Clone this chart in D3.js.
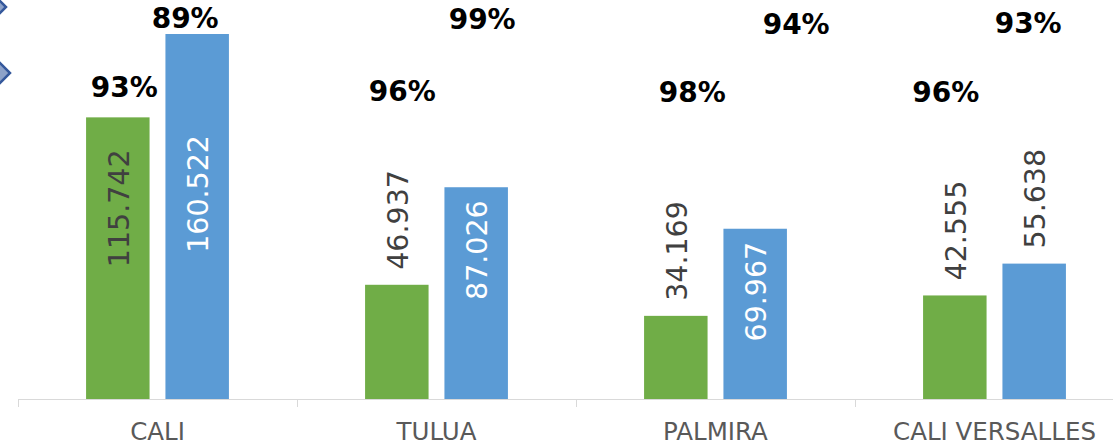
<!DOCTYPE html>
<meta charset="utf-8">
<style>
body { margin: 0; background: #fff; }
svg { display: block; font-family: "DejaVu Sans", Verdana, sans-serif; }
.axis-line { stroke: #d9d9d9; stroke-width: 1.5px; fill: none; shape-rendering: crispEdges; }
.cat-label { font-size: 24.5px; fill: #595959; text-anchor: middle; }
.val-label { font-size: 28.5px; }
.pct-label { font-size: 28px; font-weight: bold; fill: #000; text-anchor: middle; }
</style>
<body>
<div id="chart"></div>
<script src="https://cdn.jsdelivr.net/npm/d3@7"></script>
<script>
// data
var categories = ["CALI", "TULUA", "PALMIRA", "CALI VERSALLES"];
var series = ["green", "blue"];
var greenValues = [115742, 46937, 34169, 42555];
var blueValues = [160522, 87026, 69967, 55638];
var greenPct = ["93%", "96%", "98%", "96%"];
var bluePct = ["89%", "99%", "94%", "93%"];
var yMax = 150000;

// label layout (where the value text sits relative to the bar top)
var labelMode = {
  green: [{pos: "in", off: 32}, {pos: "out", off: 15}, {pos: "out", off: 15}, {pos: "out", off: 15}],
  blue:  [{pos: "in", off: 101}, {pos: "in", off: 13}, {pos: "in", off: 13}, {pos: "out", off: 15}]
};
var pctNudge = {
  green: {dx: [6.5, 5.5, 16.5, -9], y: [97, 101, 102, 102]},
  blue:  {dx: [-12, 6, 41, -6], y: [28, 29, 34, 33]}
};

var colors = {green: "#70AD47", blue: "#5B9BD5"};
var width = 1113, height = 446;
var plotTop = 34, baseY = 399, axisLeft = 18;

var fmt = d3.formatLocale({decimal: ",", thousands: ".", grouping: [3], currency: ["", ""]}).format(",");

var svg = d3.select("#chart").append("svg")
  .attr("width", width)
  .attr("height", height);

var x0 = d3.scaleBand().domain(categories).range([axisLeft, axisLeft + 279 * categories.length]).padding(0);
var x1 = d3.scaleBand().domain(series)
  .range([x0.bandwidth() * 0.244, x0.bandwidth() * 0.756])
  .paddingInner(0.2);
var y = d3.scaleLinear().domain([0, yMax]).range([baseY, plotTop]);

svg.append("clipPath").attr("id", "plot-clip")
  .append("rect")
  .attr("x", 0).attr("y", plotTop)
  .attr("width", width).attr("height", baseY - plotTop);

var rows = categories.map(function(c, i) {
  return {cat: c, i: i, green: greenValues[i], blue: blueValues[i]};
});

var groups = svg.append("g").selectAll("g")
  .data(rows)
  .enter().append("g")
  .attr("transform", function(d) { return "translate(" + x0(d.cat) + ",0)"; });

groups.selectAll("rect")
  .data(function(d) { return series.map(function(s) { return {s: s, v: d[s], i: d.i}; }); })
  .enter().append("rect")
  .attr("clip-path", "url(#plot-clip)")
  .attr("x", function(d) { return x1(d.s); })
  .attr("y", function(d) { return y(d.v); })
  .attr("width", x1.bandwidth())
  .attr("height", function(d) { return baseY - y(d.v); })
  .attr("fill", function(d) { return colors[d.s]; });

// value labels, rotated
groups.selectAll("text.val-label")
  .data(function(d) { return series.map(function(s) { return {s: s, v: d[s], i: d.i}; }); })
  .enter().append("text")
  .attr("class", "val-label")
  .attr("transform", function(d) {
    var m = labelMode[d.s][d.i];
    var top = Math.max(y(d.v), plotTop);
    var ty = m.pos === "in" ? top + m.off : top - m.off;
    var cx = x1(d.s) + x1.bandwidth() / 2 + 1;
    return "translate(" + cx + "," + ty + ") rotate(-90)";
  })
  .attr("dy", "0.36em")
  .attr("text-anchor", function(d) { return labelMode[d.s][d.i].pos === "in" ? "end" : "start"; })
  .attr("fill", function(d) {
    return (labelMode[d.s][d.i].pos === "in" && d.s === "blue") ? "#ffffff" : "#404040";
  })
  .text(function(d) { return fmt(d.v); });

// percentage labels
groups.selectAll("text.pct-label")
  .data(function(d) {
    return [{s: "green", t: greenPct[d.i], i: d.i}, {s: "blue", t: bluePct[d.i], i: d.i}];
  })
  .enter().append("text")
  .attr("class", "pct-label")
  .attr("x", function(d) { return x1(d.s) + x1.bandwidth() / 2 + pctNudge[d.s].dx[d.i]; })
  .attr("y", function(d) { return pctNudge[d.s].y[d.i]; })
  .text(function(d) { return d.t; });

// category axis
var axis = svg.append("g");
axis.append("line").attr("class", "axis-line")
  .attr("x1", axisLeft).attr("x2", width + 30)
  .attr("y1", baseY + 0.5).attr("y2", baseY + 0.5);
axis.selectAll("line.tick")
  .data(categories)
  .enter().append("line")
  .attr("class", "axis-line")
  .attr("x1", function(d) { return Math.round(x0(d)) + 0.5; })
  .attr("x2", function(d) { return Math.round(x0(d)) + 0.5; })
  .attr("y1", baseY).attr("y2", baseY + 8);
axis.selectAll("text")
  .data(categories)
  .enter().append("text")
  .attr("class", "cat-label")
  .attr("x", function(d) { return x0(d) + x0.bandwidth() / 2; })
  .attr("y", 440)
  .text(function(d) { return d; });

// two diamond shapes peeking in from the left edge
var diamonds = [{cx: -6, cy: 7}, {cx: -2, cy: 73}];
svg.selectAll("path.diamond")
  .data(diamonds)
  .enter().append("path")
  .attr("d", function(d) {
    var r = 12;
    return "M" + (d.cx - r) + "," + d.cy + "L" + d.cx + "," + (d.cy - r) +
      "L" + (d.cx + r) + "," + d.cy + "L" + d.cx + "," + (d.cy + r) + "Z";
  })
  .attr("fill", "#8da2c9")
  .attr("stroke", "#35589c")
  .attr("stroke-width", 2.5);
</script>
</body>
